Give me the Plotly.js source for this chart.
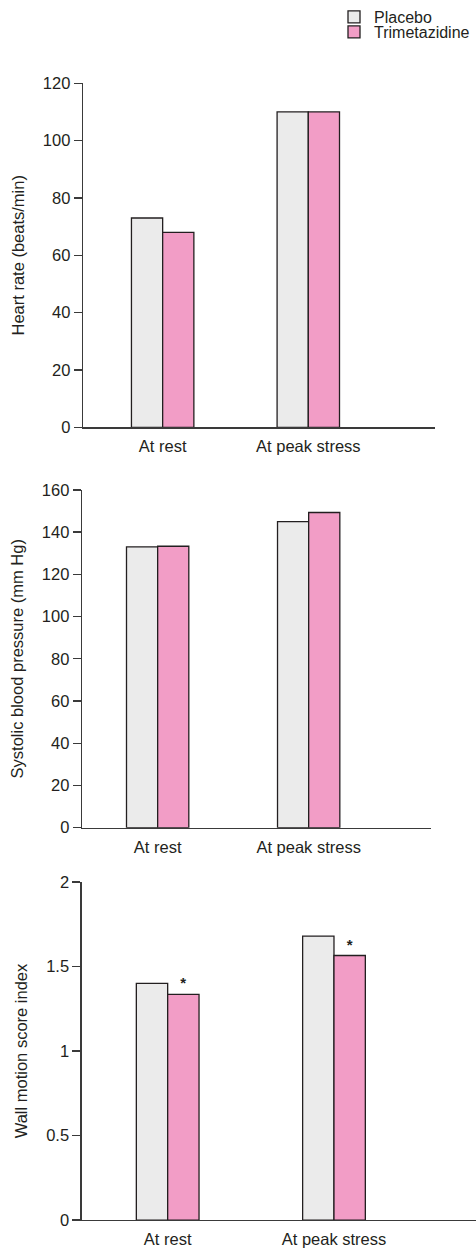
<!DOCTYPE html>
<html>
<head>
<meta charset="utf-8">
<script src="https://cdn.plot.ly/plotly-3.0.1.min.js"></script>
<style>html,body{margin:0;padding:0;background:#fff;}#chart{width:476px;height:1251px;}</style>
</head>
<body>
<div id="chart"></div>
<script>
// ---- data ----
const categories = ["At rest", "At peak stress"];
const seriesNames = ["Placebo", "Trimetazidine"];
const heartRatePlacebo = [73, 110];
const heartRateTrimetazidine = [68, 110];
const sbpPlacebo = [133, 145];
const sbpTrimetazidine = [133.3, 149.3];
const wmsiPlacebo = [1.4, 1.68];
const wmsiTrimetazidine = [1.335, 1.565];
const wmsiSignificance = ["*", "*"];
const yTitles = ["Heart rate (beats/min)", "Systolic blood pressure (mm Hg)", "Wall motion score index"];

// ---- style ----
const FONT = "Liberation Sans, Arial, sans-serif";
const TXT = "#231f20";
const AX = "#3a3a3a";
const GRAY = "#ebebeb";
const PINK = "#f29dc6";
const H = 1251, W = 476;
const px2x = p => p / W;
const px2y = p => 1 - p / H;

function barPair(p, t, xa, ya, w, showLeg) {
  const common = {type: "bar", x: categories, xaxis: xa, yaxis: ya, width: w, hoverinfo: "skip"};
  return [
    Object.assign({}, common, {y: p, name: seriesNames[0], offset: -w,
      marker: {color: GRAY, line: {color: TXT, width: 1.3}}, showlegend: showLeg, legend: "legend"}),
    Object.assign({}, common, {y: t, name: seriesNames[1], offset: 0,
      marker: {color: PINK, line: {color: TXT, width: 1.3}}, showlegend: showLeg, legend: "legend2"})
  ];
}

const data = [].concat(
  barPair(heartRatePlacebo, heartRateTrimetazidine, "x", "y", 0.2143, true),
  barPair(sbpPlacebo, sbpTrimetazidine, "x2", "y2", 0.2063, false),
  barPair(wmsiPlacebo, wmsiTrimetazidine, "x3", "y3", 0.1885, false)
);
// significance markers on trimetazidine bars of the WMSI panel
data[5].text = wmsiSignificance;
data[5].textposition = "outside";
data[5].cliponaxis = false;
data[5].textfont = {family: FONT, size: 15, color: TXT, weight: "bold"};

function xAxis(anchor, d0, d1, range) {
  return {anchor: anchor, domain: [px2x(d0), px2x(d1)], type: "category", range: range,
    showline: true, linecolor: AX, linewidth: 1.3, ticks: "", showgrid: false, zeroline: false,
    tickfont: {family: FONT, size: 16.5, color: TXT}, ticklabelstandoff: 4, fixedrange: true};
}
function yAxis(anchor, top, bottom, range, dtick, title) {
  return {anchor: anchor, domain: [px2y(bottom), px2y(top)], range: range, tick0: 0, dtick: dtick,
    showline: true, linecolor: AX, linewidth: 1.3, ticks: "outside", ticklen: 8, tickwidth: 1.3, tickcolor: AX,
    showgrid: false, zeroline: false, tickfont: {family: FONT, size: 16.5, color: TXT},
    title: {text: title, font: {family: FONT, size: 16.5, color: TXT}, standoff: 14}, fixedrange: true};
}

const layout = {
  width: W, height: H,
  margin: {l: 0, r: 0, t: 0, b: 0},
  paper_bgcolor: "#fff", plot_bgcolor: "#fff",
  barmode: "overlay",
  font: {family: FONT, color: TXT},
  showlegend: true,
  xaxis: xAxis("y", 83, 435, [-0.547, 1.870]),
  yaxis: yAxis("x", 82.3, 426.7, [0, 120], 20, yTitles[0]),
  xaxis2: xAxis("y2", 82, 430.7, [-0.501, 1.808]),
  yaxis2: yAxis("x2", 489.3, 827.3, [0, 160], 20, yTitles[1]),
  xaxis3: xAxis("y3", 81.7, 476, [-0.517, 1.854]),
  yaxis3: yAxis("x3", 881.7, 1220, [0, 2], 0.5, yTitles[2]),
  legend: {x: px2x(334), xanchor: "left", y: px2y(-1.5), yanchor: "top", bgcolor: "rgba(0,0,0,0)",
    font: {family: FONT, size: 16, color: TXT}},
  legend2: {x: px2x(334), xanchor: "left", y: px2y(15), yanchor: "top", bgcolor: "rgba(0,0,0,0)",
    font: {family: FONT, size: 16, color: TXT}}
};

Plotly.newPlot("chart", data, layout, {displayModeBar: false, staticPlot: true});
</script>
</body>
</html>
